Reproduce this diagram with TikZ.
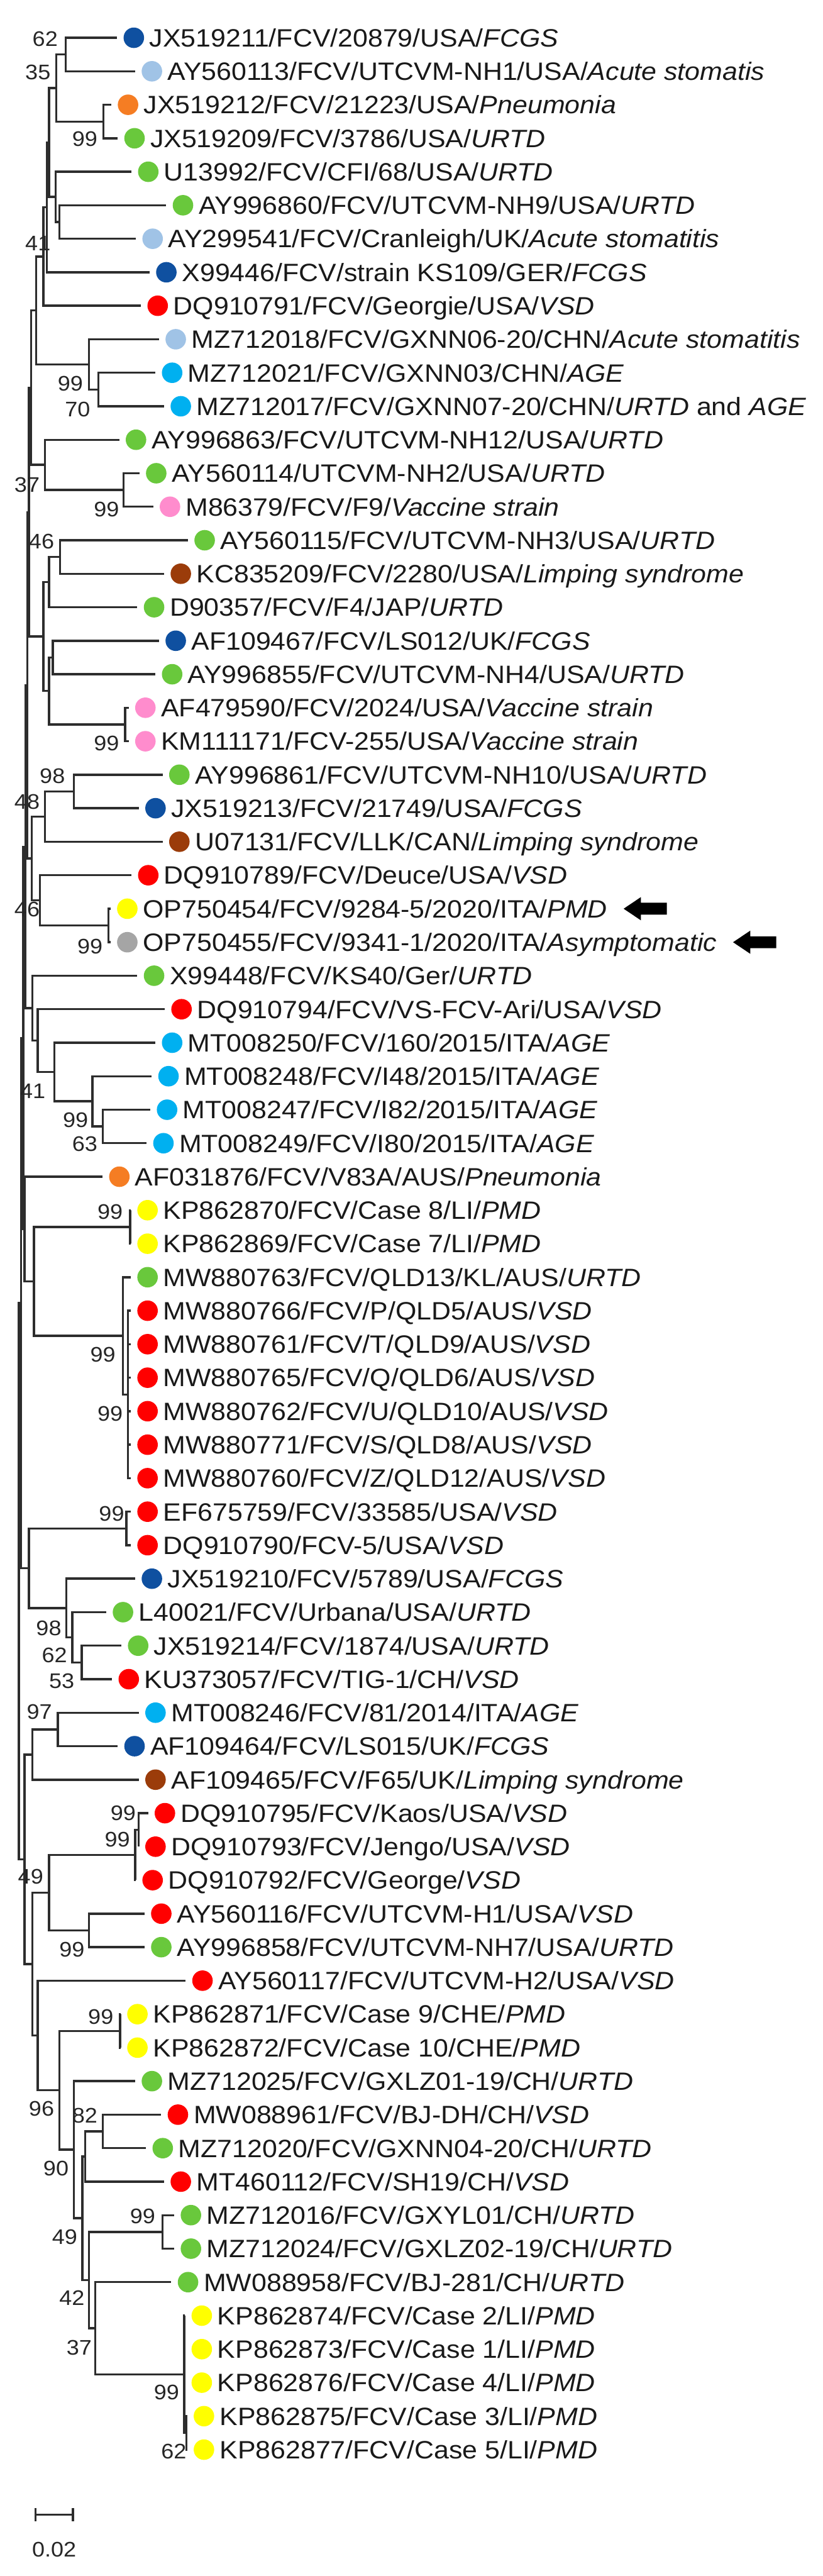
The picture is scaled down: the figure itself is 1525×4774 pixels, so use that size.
\documentclass[tikz,border=0pt]{standalone}
\usepackage{fontspec}
\usepackage{graphicx}
\setmainfont{Liberation Sans}
\usetikzlibrary{calc}
\definecolor{cFCGS}{RGB}{15,80,160}
\definecolor{cAS}{RGB}{160,195,230}
\definecolor{cPN}{RGB}{245,125,35}
\definecolor{cUR}{RGB}{105,200,60}
\definecolor{cVSD}{RGB}{255,0,0}
\definecolor{cAGE}{RGB}{0,176,240}
\definecolor{cVAC}{RGB}{255,140,205}
\definecolor{cLIM}{RGB}{155,60,10}
\definecolor{cPMD}{RGB}{255,255,0}
\definecolor{cASY}{RGB}{165,165,165}
\definecolor{ln}{RGB}{45,45,45}
\newcommand\leaffont{\fontsize{50}{56}\selectfont}
\newcommand\bsfont{\fontsize{42}{48}\selectfont}
\tikzset{
 br/.style={draw=ln, line width=4pt},
 dotn/.style={circle, inner sep=0pt, minimum size=38pt, draw=none},
 lab/.style={anchor=base west, inner sep=0pt, font=\leaffont, text=black!90},
 bsl/.style={anchor=base east, inner sep=0pt, font=\bsfont, text=black!85, yshift=-14pt},
}
\newcommand\leaf[4]{%
  \coordinate (t#1) at (#2,{70+(#1-1)*62.08});
  \node[dotn, fill=#3] (d#1) at ([xshift=31pt]t#1) {};
  \node[lab] (l#1) at ([xshift=60pt,yshift=-16.7pt]t#1) {\scalebox{1}[0.93]{#4}};
}
\newcommand\ed[2]{\draw[br] (#1) |- (#2);}
\newcommand\bs[4]{\node[bsl] (#1) at (#2,#3) {\scalebox{1}[0.93]{#4}};}
\newcommand\harrow[1]{\fill[black] ($(l#1.east |- t#1)+(30pt,0)$) -- ++(32pt,21.5pt) -- ++(0,-10.5pt) -- ++(48pt,0) -- ++(0,-22pt) -- ++(-48pt,0) -- ++(0,-10.5pt) -- cycle;}
\begin{document}
\begin{tikzpicture}[x=1.34pt,y=-1pt]
\useasboundingbox (0pt,0pt) rectangle (1525pt,-4774pt);
% leaves
\leaf{1}{162}{cFCGS}{JX519211/FCV/20879/USA/\textit{FCGS}}
\leaf{2}{187}{cAS}{AY560113/FCV/UTCVM-NH1/USA/\textit{Acute stomatis}}
\leaf{3}{154}{cPN}{JX519212/FCV/21223/USA/\textit{Pneumonia}}
\leaf{4}{163}{cUR}{JX519209/FCV/3786/USA/\textit{URTD}}
\leaf{5}{182}{cUR}{U13992/FCV/CFI/68/USA/\textit{URTD}}
\leaf{6}{230}{cUR}{AY996860/FCV/UTCVM-NH9/USA/\textit{URTD}}
\leaf{7}{188}{cAS}{AY299541/FCV/Cranleigh/UK/\textit{Acute stomatitis}}
\leaf{8}{207}{cFCGS}{X99446/FCV/strain KS109/GER/\textit{FCGS}}
\leaf{9}{195}{cVSD}{DQ910791/FCV/Georgie/USA/\textit{VSD}}
\leaf{10}{220}{cAS}{MZ712018/FCV/GXNN06-20/CHN/\textit{Acute stomatitis}}
\leaf{11}{215}{cAGE}{MZ712021/FCV/GXNN03/CHN/\textit{AGE}}
\leaf{12}{227}{cAGE}{MZ712017/FCV/GXNN07-20/CHN/\textit{URTD} and \textit{AGE}}
\leaf{13}{165}{cUR}{AY996863/FCV/UTCVM-NH12/USA/\textit{URTD}}
\leaf{14}{193}{cUR}{AY560114/UTCVM-NH2/USA/\textit{URTD}}
\leaf{15}{212}{cVAC}{M86379/FCV/F9/\textit{Vaccine strain}}
\leaf{16}{260}{cUR}{AY560115/FCV/UTCVM-NH3/USA/\textit{URTD}}
\leaf{17}{227}{cLIM}{KC835209/FCV/2280/USA/\textit{Limping syndrome}}
\leaf{18}{190}{cUR}{D90357/FCV/F4/JAP/\textit{URTD}}
\leaf{19}{220}{cFCGS}{AF109467/FCV/LS012/UK/\textit{FCGS}}
\leaf{20}{215}{cUR}{AY996855/FCV/UTCVM-NH4/USA/\textit{URTD}}
\leaf{21}{178}{cVAC}{AF479590/FCV/2024/USA/\textit{Vaccine strain}}
\leaf{22}{178}{cVAC}{KM111171/FCV-255/USA/\textit{Vaccine strain}}
\leaf{23}{225}{cUR}{AY996861/FCV/UTCVM-NH10/USA/\textit{URTD}}
\leaf{24}{192}{cFCGS}{JX519213/FCV/21749/USA/\textit{FCGS}}
\leaf{25}{225}{cLIM}{U07131/FCV/LLK/CAN/\textit{Limping syndrome}}
\leaf{26}{182}{cVSD}{DQ910789/FCV/Deuce/USA/\textit{VSD}}
\leaf{27}{153}{cPMD}{OP750454/FCV/9284-5/2020/ITA/\textit{PMD}}
\leaf{28}{153}{cASY}{OP750455/FCV/9341-1/2020/ITA/\textit{Asymptomatic}}
\leaf{29}{190}{cUR}{X99448/FCV/KS40/Ger/\textit{URTD}}
\leaf{30}{228}{cVSD}{DQ910794/FCV/VS-FCV-Ari/USA/\textit{VSD}}
\leaf{31}{215}{cAGE}{MT008250/FCV/160/2015/ITA/\textit{AGE}}
\leaf{32}{210}{cAGE}{MT008248/FCV/I48/2015/ITA/\textit{AGE}}
\leaf{33}{208}{cAGE}{MT008247/FCV/I82/2015/ITA/\textit{AGE}}
\leaf{34}{203}{cAGE}{MT008249/FCV/I80/2015/ITA/\textit{AGE}}
\leaf{35}{142}{cPN}{AF031876/FCV/V83A/AUS/\textit{Pneumonia}}
\leaf{36}{181}{cPMD}{KP862870/FCV/Case 8/LI/\textit{PMD}}
\leaf{37}{181}{cPMD}{KP862869/FCV/Case 7/LI/\textit{PMD}}
\leaf{38}{181}{cUR}{MW880763/FCV/QLD13/KL/AUS/\textit{URTD}}
\leaf{39}{181}{cVSD}{MW880766/FCV/P/QLD5/AUS/\textit{VSD}}
\leaf{40}{181}{cVSD}{MW880761/FCV/T/QLD9/AUS/\textit{VSD}}
\leaf{41}{181}{cVSD}{MW880765/FCV/Q/QLD6/AUS/\textit{VSD}}
\leaf{42}{181}{cVSD}{MW880762/FCV/U/QLD10/AUS/\textit{VSD}}
\leaf{43}{181}{cVSD}{MW880771/FCV/S/QLD8/AUS/\textit{VSD}}
\leaf{44}{181}{cVSD}{MW880760/FCV/Z/QLD12/AUS/\textit{VSD}}
\leaf{45}{181}{cVSD}{EF675759/FCV/33585/USA/\textit{VSD}}
\leaf{46}{181}{cVSD}{DQ910790/FCV-5/USA/\textit{VSD}}
\leaf{47}{187}{cFCGS}{JX519210/FCV/5789/USA/\textit{FCGS}}
\leaf{48}{147}{cUR}{L40021/FCV/Urbana/USA/\textit{URTD}}
\leaf{49}{168}{cUR}{JX519214/FCV/1874/USA/\textit{URTD}}
\leaf{50}{155}{cVSD}{KU373057/FCV/TIG-1/CH/\textit{VSD}}
\leaf{51}{192}{cAGE}{MT008246/FCV/81/2014/ITA/\textit{AGE}}
\leaf{52}{163}{cFCGS}{AF109464/FCV/LS015/UK/\textit{FCGS}}
\leaf{53}{192}{cLIM}{AF109465/FCV/F65/UK/\textit{Limping syndrome}}
\leaf{54}{205}{cVSD}{DQ910795/FCV/Kaos/USA/\textit{VSD}}
\leaf{55}{192}{cVSD}{DQ910793/FCV/Jengo/USA/\textit{VSD}}
\leaf{56}{188}{cVSD}{DQ910792/FCV/George/\textit{VSD}}
\leaf{57}{200}{cVSD}{AY560116/FCV/UTCVM-H1/USA/\textit{VSD}}
\leaf{58}{200}{cUR}{AY996858/FCV/UTCVM-NH7/USA/\textit{URTD}}
\leaf{59}{257}{cVSD}{AY560117/FCV/UTCVM-H2/USA/\textit{VSD}}
\leaf{60}{167}{cPMD}{KP862871/FCV/Case 9/CHE/\textit{PMD}}
\leaf{61}{167}{cPMD}{KP862872/FCV/Case 10/CHE/\textit{PMD}}
\leaf{62}{187}{cUR}{MZ712025/FCV/GXLZ01-19/CH/\textit{URTD}}
\leaf{63}{223}{cVSD}{MW088961/FCV/BJ-DH/CH/\textit{VSD}}
\leaf{64}{202}{cUR}{MZ712020/FCV/GXNN04-20/CH/\textit{URTD}}
\leaf{65}{227}{cVSD}{MT460112/FCV/SH19/CH/\textit{VSD}}
\leaf{66}{241}{cUR}{MZ712016/FCV/GXYL01/CH/\textit{URTD}}
\leaf{67}{241}{cUR}{MZ712024/FCV/GXLZ02-19/CH/\textit{URTD}}
\leaf{68}{237}{cUR}{MW088958/FCV/BJ-281/CH/\textit{URTD}}
\leaf{69}{256}{cPMD}{KP862874/FCV/Case 2/LI/\textit{PMD}}
\leaf{70}{256}{cPMD}{KP862873/FCV/Case 1/LI/\textit{PMD}}
\leaf{71}{256}{cPMD}{KP862876/FCV/Case 4/LI/\textit{PMD}}
\leaf{72}{259}{cPMD}{KP862875/FCV/Case 3/LI/\textit{PMD}}
\leaf{73}{259}{cPMD}{KP862877/FCV/Case 5/LI/\textit{PMD}}
% internal nodes
\coordinate (a1) at (91,101.05);
\coordinate (a2) at (143,225.2);
\coordinate (a3) at (78,163.1);
\coordinate (b1) at (82,411.45);
\coordinate (b2) at (77,364.9);
\coordinate (b3) at (68,264.0);
\coordinate (b3p) at (65,384.3);
\coordinate (b4) at (60,475.45);
\coordinate (F70) at (136,721.85);
\coordinate (E99) at (123,675.3);
\coordinate (b5) at (50,575.4);
\coordinate (P99a) at (171,908.05);
\coordinate (G) at (62,861.5);
\coordinate (BB1) at (43,718.45);
\coordinate (I46) at (83,1032.25);
\coordinate (J) at (68,1078.8);
\coordinate (Ln) at (73,1218.45);
\coordinate (P99b) at (173,1342.65);
\coordinate (M) at (68,1280.55);
\coordinate (K) at (60,1179.7);
\coordinate (BB2) at (40,949.1);
\coordinate (N98) at (102,1466.8);
\coordinate (O) at (62,1513.35);
\coordinate (P99c) at (150,1715.15);
\coordinate (Q) at (55,1668.6);
\coordinate (R) at (44,1591.0);
\coordinate (BB3) at (38,1270.0);
\coordinate (P63) at (142,2087.6);
\coordinate (S99) at (128,2041.05);
\coordinate (T) at (75,1986.7);
\coordinate (U) at (52,1928.5);
\coordinate (V) at (45,1868.35);
\coordinate (BB4) at (35,1569.2);
\coordinate (P99d) at (180,2273.85);
\coordinate (MWin) at (177,2584.2);
\coordinate (MWout) at (170,2475.6);
\coordinate (BC) at (47,2374.7);
\coordinate (BB5) at (34,2277.7);
\coordinate (BB6) at (32,1923.45);
\coordinate (X99) at (175,2832.55);
\coordinate (Y53) at (113,3080.85);
\coordinate (Y62) at (100,3034.3);
\coordinate (Y98) at (92,2980.0);
\coordinate (W) at (40,2906.3);
\coordinate (BB7) at (29,2414.9);
\coordinate (Z97) at (80,3205.05);
\coordinate (Z2) at (45,3251.6);
\coordinate (AA99) at (192,3391.25);
\coordinate (AB99) at (187,3437.8);
\coordinate (AC99) at (123,3577.55);
\coordinate (AD49) at (68,3507.7);
\coordinate (AG99) at (166,3763.75);
\coordinate (AH82) at (142,3950);
\coordinate (AI) at (118,3996.55);
\coordinate (AN99) at (225,4136.25);
\coordinate (AP62) at (258,4508.75);
\coordinate (AO99) at (255,4400.1);
\coordinate (AQ37) at (132,4314.75);
\coordinate (AR42) at (123,4225.5);
\coordinate (AK49) at (114,4111.0);
\coordinate (AJ90) at (102,3983.95);
\coordinate (AM96) at (82,3873.85);
\coordinate (AF) at (52,3772.2);
\coordinate (AS) at (45,3639.95);
\coordinate (AE) at (34,3445.8);
\coordinate (ROOT) at (26,2930.35);
% edges
\ed{a1}{t1}\ed{a1}{t2}
\ed{a2}{t3}\ed{a2}{t4}
\ed{a3}{a1}\ed{a3}{a2}
\ed{b1}{t6}\ed{b1}{t7}
\ed{b2}{t5}\ed{b2}{b1}
\ed{b3}{a3}\ed{b3}{b2}
\ed{b3p}{b3}\ed{b3p}{t8}
\ed{b4}{b3p}\ed{b4}{t9}
\ed{F70}{t11}\ed{F70}{t12}
\ed{E99}{t10}\ed{E99}{F70}
\ed{b5}{b4}\ed{b5}{E99}
\ed{P99a}{t14}\ed{P99a}{t15}
\ed{G}{t13}\ed{G}{P99a}
\ed{BB1}{b5}\ed{BB1}{G}
\ed{I46}{t16}\ed{I46}{t17}
\ed{J}{I46}\ed{J}{t18}
\ed{Ln}{t19}\ed{Ln}{t20}
\ed{P99b}{t21}\ed{P99b}{t22}
\ed{M}{Ln}\ed{M}{P99b}
\ed{K}{J}\ed{K}{M}
\ed{BB2}{BB1}\ed{BB2}{K}
\ed{N98}{t23}\ed{N98}{t24}
\ed{O}{N98}\ed{O}{t25}
\ed{P99c}{t27}\ed{P99c}{t28}
\ed{Q}{t26}\ed{Q}{P99c}
\ed{R}{O}\ed{R}{Q}
\ed{BB3}{BB2}\ed{BB3}{R}
\ed{P63}{t33}\ed{P63}{t34}
\ed{S99}{t32}\ed{S99}{P63}
\ed{T}{t31}\ed{T}{S99}
\ed{U}{t30}\ed{U}{T}
\ed{V}{t29}\ed{V}{U}
\ed{BB4}{BB3}\ed{BB4}{V}
\ed{P99d}{t36}\ed{P99d}{t37}
\ed{MWin}{t39}\ed{MWin}{t40}\ed{MWin}{t41}\ed{MWin}{t42}\ed{MWin}{t43}\ed{MWin}{t44}
\ed{MWout}{t38}\ed{MWout}{MWin}
\ed{BC}{P99d}\ed{BC}{MWout}
\ed{BB5}{t35}\ed{BB5}{BC}
\ed{BB6}{BB4}\ed{BB6}{BB5}
\ed{X99}{t45}\ed{X99}{t46}
\ed{Y53}{t49}\ed{Y53}{t50}
\ed{Y62}{t48}\ed{Y62}{Y53}
\ed{Y98}{t47}\ed{Y98}{Y62}
\ed{W}{X99}\ed{W}{Y98}
\ed{BB7}{BB6}\ed{BB7}{W}
\ed{Z97}{t51}\ed{Z97}{t52}
\ed{Z2}{Z97}\ed{Z2}{t53}
\ed{AA99}{t54}\ed{AA99}{t55}
\ed{AB99}{AA99}\ed{AB99}{t56}
\ed{AC99}{t57}\ed{AC99}{t58}
\ed{AD49}{AB99}\ed{AD49}{AC99}
\ed{AG99}{t60}\ed{AG99}{t61}
\ed{AH82}{t63}\ed{AH82}{t64}
\ed{AI}{AH82}\ed{AI}{t65}
\ed{AN99}{t66}\ed{AN99}{t67}
\ed{AP62}{t72}\ed{AP62}{t73}
\ed{AO99}{t69}\ed{AO99}{t70}\ed{AO99}{t71}\ed{AO99}{AP62}
\ed{AQ37}{t68}\ed{AQ37}{AO99}
\ed{AR42}{AN99}\ed{AR42}{AQ37}
\ed{AK49}{AI}\ed{AK49}{AR42}
\ed{AJ90}{t62}\ed{AJ90}{AK49}
\ed{AM96}{AG99}\ed{AM96}{AJ90}
\ed{AF}{t59}\ed{AF}{AM96}
\ed{AS}{AD49}\ed{AS}{AF}
\ed{AE}{Z2}\ed{AE}{AS}
\ed{ROOT}{BB7}\ed{ROOT}{AE}
% bootstrap values
\bs{s1}{80}{72}{62}
\bs{s2}{70}{133}{35}
\bs{s3}{135}{257}{99}
\bs{s4}{70}{450}{41}
\bs{s5}{115}{710}{99}
\bs{s6}{125}{758}{70}
\bs{s7}{55}{898}{37}
\bs{s8}{165}{943}{99}
\bs{s9}{75}{1003}{46}
\bs{s10}{165}{1377}{99}
\bs{s11}{90}{1438}{98}
\bs{s12}{55}{1485}{48}
\bs{s13}{55}{1685}{46}
\bs{s14}{142}{1753}{99}
\bs{s15}{63}{2022}{41}
\bs{s16}{122}{2075}{99}
\bs{s17}{135}{2120}{63}
\bs{s18}{170}{2245}{99}
\bs{s19}{160}{2510}{99}
\bs{s20}{170}{2620}{99}
\bs{s21}{172}{2805}{99}
\bs{s22}{85}{3017}{98}
\bs{s23}{93}{3067}{62}
\bs{s24}{103}{3115}{53}
\bs{s25}{72}{3172}{97}
\bs{s26}{188}{3360}{99}
\bs{s27}{180}{3408}{99}
\bs{s28}{60}{3477}{49}
\bs{s29}{117}{3613}{99}
\bs{s30}{157}{3737}{99}
\bs{s31}{75}{3907}{96}
\bs{s32}{135}{3920}{82}
\bs{s33}{95}{4018}{90}
\bs{s34}{215}{4107}{99}
\bs{s35}{107}{4145}{49}
\bs{s36}{117}{4258}{42}
\bs{s37}{127}{4350}{37}
\bs{s38}{248}{4433}{99}
\bs{s39}{258}{4543}{62}
% arrows
\harrow{27}
\harrow{28}
% scale bar
\coordinate (sb1) at (49,4660);
\coordinate (sb2) at (101,4660);
\draw[br] (sb1) -- (sb2);
\draw[br] ([yshift=12pt]sb1) -- ([yshift=-12pt]sb1);
\draw[br] ([yshift=12pt]sb2) -- ([yshift=-12pt]sb2);
\node[font=\bsfont, text=black!85, inner sep=0pt] (sbl) at (75,4725) {\scalebox{1}[0.93]{0.02}};
\end{tikzpicture}
\end{document}
